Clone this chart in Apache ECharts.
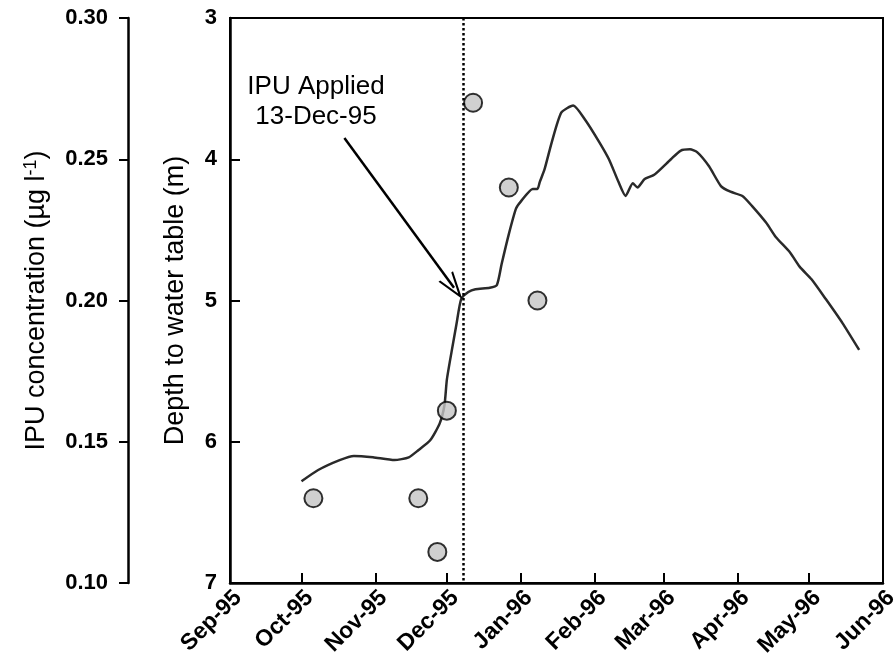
<!DOCTYPE html>
<html>
<head>
<meta charset="utf-8">
<style>
  html, body { margin: 0; padding: 0; background: #fff; }
  #chart { width: 894px; height: 666px; }
</style>
<script src="https://cdn.jsdelivr.net/npm/echarts@6/dist/echarts.min.js"></script>
</head>
<body>
<div id="chart"></div>
<script>
// depth to water table (m)
const depthDates = [
  '1995-10-01', '1995-10-08', '1995-10-17', '1995-10-23', '1995-10-31', '1995-11-09',
  '1995-11-15', '1995-11-19', '1995-11-24', '1995-11-28', '1995-11-30', '1995-12-01',
  '1995-12-03', '1995-12-05', '1995-12-07', '1995-12-10', '1995-12-13', '1995-12-19',
  '1995-12-22', '1995-12-24', '1995-12-27', '1995-12-30', '1996-01-01', '1996-01-06',
  '1996-01-08', '1996-01-09', '1996-01-11', '1996-01-14', '1996-01-18', '1996-01-23',
  '1996-01-28', '1996-02-03', '1996-02-07', '1996-02-11', '1996-02-14', '1996-02-17',
  '1996-02-19', '1996-02-22', '1996-02-26', '1996-03-04', '1996-03-08', '1996-03-12',
  '1996-03-15', '1996-03-20', '1996-03-25', '1996-03-29', '1996-04-03', '1996-04-07',
  '1996-04-13', '1996-04-17', '1996-04-23', '1996-04-27', '1996-05-02', '1996-05-08',
  '1996-05-15', '1996-05-22'
];
const depthValues = [
  6.28, 6.20, 6.13, 6.10, 6.11, 6.13,
  6.11, 6.06, 5.99, 5.87, 5.74, 5.56,
  5.36, 5.17, 4.99, 4.94, 4.92, 4.91,
  4.89, 4.74, 4.53, 4.35, 4.30, 4.21,
  4.21, 4.16, 4.07, 3.88, 3.67, 3.62,
  3.72, 3.88, 4.00, 4.16, 4.26, 4.17,
  4.20, 4.14, 4.11, 4.00, 3.94, 3.93,
  3.95, 4.05, 4.19, 4.23, 4.26, 4.33,
  4.45, 4.55, 4.66, 4.76, 4.85, 4.99,
  5.16, 5.35
];

// IPU concentration samples (µg/l)
const ipuDates = ['1995-10-06', '1995-11-19', '1995-11-27', '1995-12-01', '1995-12-12', '1995-12-27', '1996-01-08'];
const ipuValues = [0.130, 0.130, 0.111, 0.161, 0.270, 0.240, 0.200];

const monthTicks = [
  '1995-09-01', '1995-10-01', '1995-11-01', '1995-12-01', '1996-01-01',
  '1996-02-01', '1996-03-01', '1996-04-01', '1996-05-01', '1996-06-01'
];
const monthNames = ['Jan', 'Feb', 'Mar', 'Apr', 'May', 'Jun', 'Jul', 'Aug', 'Sep', 'Oct', 'Nov', 'Dec'];

const depthTicks = [3, 4, 5, 6, 7];
const ipuTicks = [0.10, 0.15, 0.20, 0.25, 0.30];

// dotted line where it is drawn, plus the annotation arrow (end = centre of the head)
const appliedLineDate = '1995-12-08';
const arrowFrom = ['1995-10-19', 3.85];
const arrowTo = ['1995-12-04', 4.91];

function ts(s) {
  const p = s.split('-');
  return Date.UTC(+p[0], +p[1] - 1, +p[2]);
}

const FONT = 'Liberation Sans, Arial, Helvetica, sans-serif';

const tickFont = {
  color: '#000',
  fontSize: 22,
  fontWeight: 'bold',
  fontFamily: FONT
};

const chart = echarts.init(document.getElementById('chart'));

const option = {
  animation: false,
  grid: {
    left: 230,
    right: 11,
    top: 18,
    bottom: 83,
    outerBoundsMode: 'none',
    show: true,
    borderColor: '#000',
    borderWidth: 2
  },
  xAxis: {
    type: 'value',
    min: ts(monthTicks[0]),
    max: ts(monthTicks[monthTicks.length - 1]),
    axisLine: { lineStyle: { color: '#000', width: 2.5 } },
    axisTick: {
      inside: true,
      length: 10,
      lineStyle: { color: '#000', width: 2 },
      customValues: monthTicks.map(ts)
    },
    axisLabel: Object.assign({}, tickFont, {
      fontSize: 23,
      rotate: 45,
      margin: 3,
      verticalAlign: 'top',
      customValues: monthTicks.map(ts),
      formatter: function (v) {
        const d = new Date(v);
        return monthNames[d.getUTCMonth()] + '-' + String(d.getUTCFullYear()).slice(2);
      }
    }),
    splitLine: { show: false }
  },
  yAxis: [
    {
      type: 'value',
      inverse: true,
      min: depthTicks[0],
      max: depthTicks[depthTicks.length - 1],
      interval: 1,
      position: 'left',
      name: 'Depth to water table (m)',
      nameLocation: 'middle',
      nameGap: 41,
      nameTextStyle: { color: '#000', fontSize: 27, fontFamily: FONT },
      axisLine: { show: true, lineStyle: { color: '#000', width: 2.5 } },
      axisTick: { show: true, inside: true, length: 10, lineStyle: { color: '#000', width: 2 } },
      axisLabel: Object.assign({}, tickFont, { margin: 13 }),
      splitLine: { show: false }
    },
    {
      type: 'value',
      min: ipuTicks[0],
      max: ipuTicks[ipuTicks.length - 1],
      interval: 0.05,
      position: 'left',
      offset: 102,
      name: 'IPU concentration (µg l{sup|-1})',
      nameLocation: 'middle',
      nameGap: 77,
      nameTextStyle: {
        color: '#000',
        fontSize: 27,
        fontFamily: FONT,
        rich: {
          sup: { fontSize: 18, fontFamily: FONT, color: '#000', padding: [0, 0, 11, 0] }
        }
      },
      axisLine: { show: true, lineStyle: { color: '#000', width: 2.5 } },
      axisTick: { show: true, inside: false, length: 9, lineStyle: { color: '#000', width: 2 } },
      axisLabel: Object.assign({}, tickFont, {
        margin: 20,
        formatter: function (v) { return v.toFixed(2); }
      }),
      splitLine: { show: false }
    }
  ],
  graphic: [
    {
      type: 'text',
      x: 316,
      y: 72,
      style: {
        text: 'IPU Applied\n13-Dec-95',
        fill: '#000',
        fontSize: 26,
        lineHeight: 30,
        align: 'center',
        verticalAlign: 'top',
        fontFamily: FONT
      }
    }
  ],
  series: [
    {
      type: 'line',
      yAxisIndex: 0,
      data: depthDates.map(function (d, i) { return [ts(d), depthValues[i]]; }),
      showSymbol: false,
      smooth: 0.2,
      lineStyle: { color: '#2a2a2a', width: 2.5 },
      z: 3,
      markLine: {
        silent: true,
        animation: false,
        symbol: ['none', 'none'],
        label: { show: false },
        data: [
          {
            xAxis: ts(appliedLineDate),
            lineStyle: { type: [2.5, 2.5], color: '#000', width: 2.5 }
          },
          [
            {
              coord: [ts(arrowFrom[0]), arrowFrom[1]],
              symbol: 'none',
              lineStyle: { type: 'solid', color: '#000', width: 2.5 }
            },
            {
              coord: [ts(arrowTo[0]), arrowTo[1]],
              symbol: 'path://M5,0 L10,14 L8.8,14 L5,3.5 L1.2,14 L0,14 Z',
              symbolSize: [18, 28]
            }
          ]
        ]
      }
    },
    {
      type: 'scatter',
      yAxisIndex: 1,
      data: ipuDates.map(function (d, i) { return [ts(d), ipuValues[i]]; }),
      symbol: 'circle',
      symbolSize: 18,
      itemStyle: { color: '#c4c4c4', borderColor: '#000', borderWidth: 2 },
      z: 4
    }
  ]
};

chart.setOption(option);
</script>
</body>
</html>
